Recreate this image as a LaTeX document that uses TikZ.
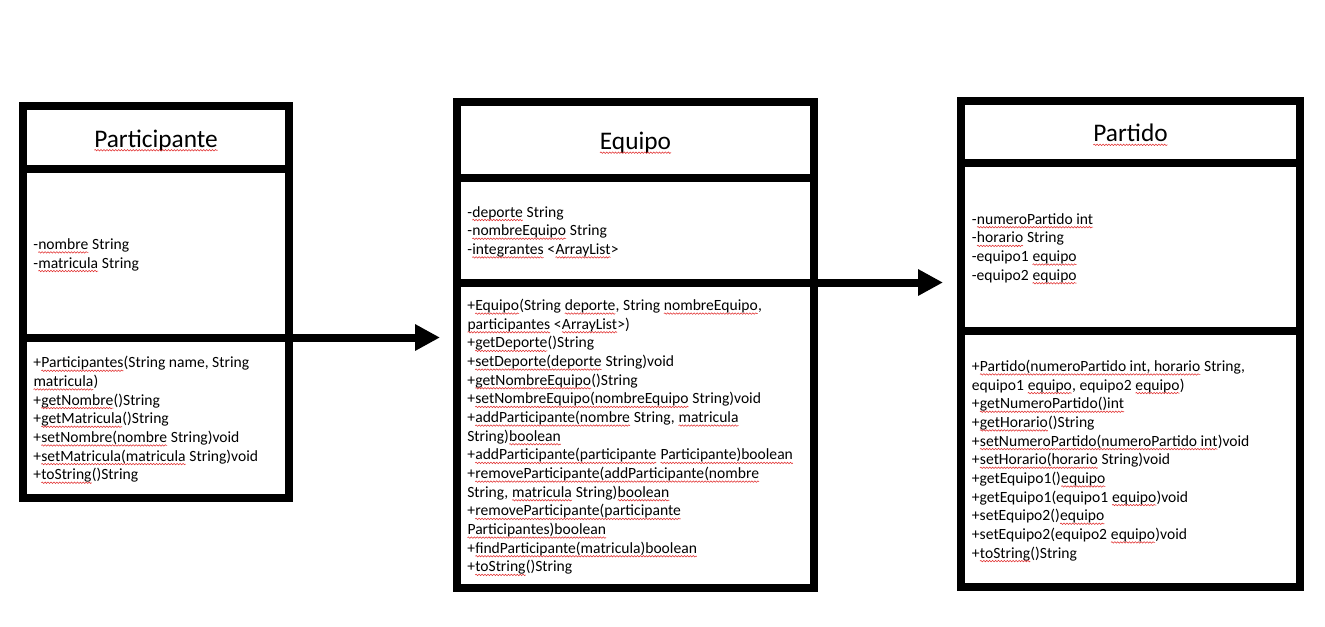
\documentclass[tikz,border=0pt]{standalone}
\usepackage{fontspec}
\setmainfont{Carlito}
\usetikzlibrary{positioning,arrows.meta,decorations.pathmorphing}

\definecolor{spell}{RGB}{225,45,45}
% red wavy underline, as a spell checker marks a word
\newcommand{\sq}[1]{\tikz[baseline=(w.base)]{\node[inner sep=0pt, outer sep=0pt, anchor=base, draw=none, minimum width=0pt, minimum height=0pt] (w) {#1};
  \draw[spell, line width=0.4pt, decorate, decoration={snake, amplitude=0.55pt, segment length=2.2pt}]
    ([yshift=-2.2pt]w.base west) -- ([yshift=-2.2pt]w.base east);}}

\tikzset{
  cls/.style={draw, line width=6pt, outer sep=0pt, inner sep=0pt},
  ttl/.style={inner sep=0pt, yshift=-2.5pt, font=\fontsize{19}{22}\selectfont},
  mem/.style={anchor=west, align=left, inner sep=0pt, yshift=-1.75pt, font=\fontsize{11.7}{14}\selectfont},
  conn/.style={line width=6pt, -{Triangle[length=18.75pt,width=18.75pt]}}
}

\begin{document}
\begin{tikzpicture}[x=0.75pt,y=-0.75pt]
  \fill[white] (0,0) rectangle (1325,626);

  % Participante
  \node[cls, minimum width=199.5pt, minimum height=46.875pt] (prt-title) at (156,137.25) {};
  \node[cls, minimum width=199.5pt, minimum height=126.75pt, below=0pt of prt-title] (prt-attr) {};
  \node[cls, minimum width=199.5pt, minimum height=120.375pt, below=0pt of prt-attr] (prt-meth) {};
  \node[ttl] (prt-name) at (prt-title) {\sq{Participante}};
  \node[mem] (prt-attr-txt) at ([xshift=7.5pt]prt-attr.west) {-\sq{nombre} String\\
    -\sq{matricula} String};
  \node[mem] (prt-meth-txt) at ([xshift=7.5pt]prt-meth.west) {+\sq{Participantes}(String name, String\\
    \sq{matricula})\\
    +\sq{getNombre}()String\\
    +\sq{getMatricula}()String\\
    +\sq{setNombre(nombre} String)void\\
    +\sq{setMatricula(matricula} String)void\\
    +\sq{toString}()String};

  % Equipo
  \node[cls, minimum width=267.75pt, minimum height=56.625pt] (eqp-title) at (635.5,139.75) {};
  \node[cls, minimum width=267.75pt, minimum height=78.75pt, below=0pt of eqp-title] (eqp-attr) {};
  \node[cls, minimum width=267.75pt, minimum height=229.125pt, below=0pt of eqp-attr] (eqp-meth) {};
  \node[ttl] (eqp-name) at (eqp-title) {\sq{Equipo}};
  \node[mem] (eqp-attr-txt) at ([xshift=7.5pt]eqp-attr.west) {-\sq{deporte} String\\
    -\sq{nombreEquipo} String\\
    -\sq{integrantes} <\sq{ArrayList}>};
  \node[mem] (eqp-meth-txt) at ([xshift=7.5pt]eqp-meth.west) {+\sq{Equipo}(String \sq{deporte}, String \sq{nombreEquipo},\\
    \sq{participantes} <\sq{ArrayList}>)\\
    +\sq{getDeporte}()String\\
    +\sq{setDeporte(deporte} String)void\\
    +\sq{getNombreEquipo}()String\\
    +\sq{setNombreEquipo(nombreEquipo} String)void\\
    +\sq{addParticipante(nombre} String, \sq{matricula}\\
    String)\sq{boolean}\\
    +\sq{addParticipante(participante} \sq{Participante)boolean}\\
    +\sq{removeParticipante(addParticipante(nombre}\\
    String, \sq{matricula} String)\sq{boolean}\\
    +\sq{removeParticipante(participante}\\
    \sq{Participantes)boolean}\\
    +\sq{findParticipante(matricula)boolean}\\
    +\sq{toString}()String};

  % Partido
  \node[cls, minimum width=254.25pt, minimum height=46.125pt] (ptd-title) at (1130.5,131.75) {};
  \node[cls, minimum width=254.25pt, minimum height=126pt, below=0pt of ptd-title] (ptd-attr) {};
  \node[cls, minimum width=254.25pt, minimum height=192.375pt, below=0pt of ptd-attr] (ptd-meth) {};
  \node[ttl] (ptd-name) at (ptd-title) {\sq{Partido}};
  \node[mem] (ptd-attr-txt) at ([xshift=8pt]ptd-attr.west) {-\sq{numeroPartido int}\\
    -\sq{horario} String\\
    -equipo1 \sq{equipo}\\
    -equipo2 \sq{equipo}};
  \node[mem] (ptd-meth-txt) at ([xshift=8pt]ptd-meth.west) {+\sq{Partido(numeroPartido int, horario} String,\\
    equipo1 \sq{equipo}, equipo2 \sq{equipo})\\
    +\sq{getNumeroPartido()int}\\
    +\sq{getHorario}()String\\
    +\sq{setNumeroPartido(numeroPartido int})void\\
    +\sq{setHorario(horario} String)void\\
    +getEquipo1()\sq{equipo}\\
    +getEquipo1(equipo1 \sq{equipo})void\\
    +setEquipo2()\sq{equipo}\\
    +setEquipo2(equipo2 \sq{equipo})void\\
    +\sq{toString}()String};

  % links
  \draw[conn, shorten >=12.75pt] (prt-meth.north east) -- (eqp-attr.west |- prt-meth.north east);
  \draw[conn, shorten >=13.5pt] (eqp-meth.north east) -- (ptd-attr.west |- eqp-meth.north east);
\end{tikzpicture}
\end{document}
